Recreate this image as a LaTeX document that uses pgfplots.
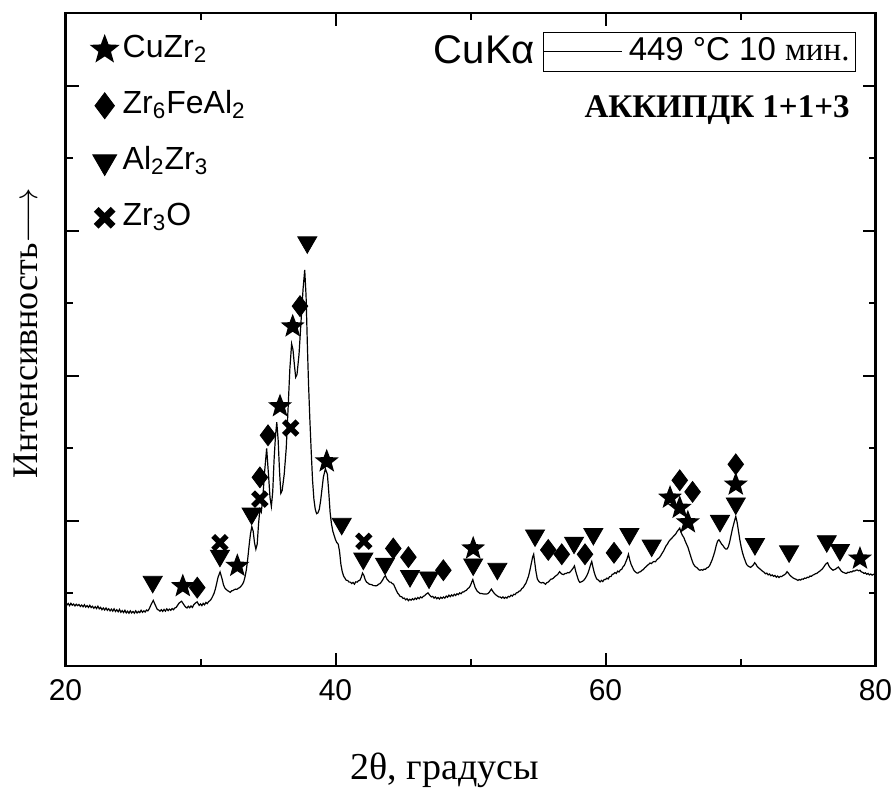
\documentclass[border=0pt]{standalone}
\usepackage{fontspec}
\setmainfont{Liberation Serif}
\newfontfamily\arial{Liberation Sans}
\usepackage{pgfplots}
\pgfplotsset{compat=1.18}

\pgfdeclareplotmark{fstar}{%
  \pgfpathmoveto{\pgfpointpolar{90}{\pgfplotmarksize}}%
  \pgfpathlineto{\pgfpointpolar{126}{0.42\pgfplotmarksize}}%
  \pgfpathlineto{\pgfpointpolar{162}{\pgfplotmarksize}}%
  \pgfpathlineto{\pgfpointpolar{198}{0.42\pgfplotmarksize}}%
  \pgfpathlineto{\pgfpointpolar{234}{\pgfplotmarksize}}%
  \pgfpathlineto{\pgfpointpolar{270}{0.42\pgfplotmarksize}}%
  \pgfpathlineto{\pgfpointpolar{306}{\pgfplotmarksize}}%
  \pgfpathlineto{\pgfpointpolar{342}{0.42\pgfplotmarksize}}%
  \pgfpathlineto{\pgfpointpolar{18}{\pgfplotmarksize}}%
  \pgfpathlineto{\pgfpointpolar{54}{0.42\pgfplotmarksize}}%
  \pgfpathclose
  \pgfusepathqfill
}
\pgfdeclareplotmark{bx}{%
  \pgfpathmoveto{\pgfpoint{0.509\pgfplotmarksize}{0.905\pgfplotmarksize}}%
  \pgfpathlineto{\pgfpoint{0.905\pgfplotmarksize}{0.509\pgfplotmarksize}}%
  \pgfpathlineto{\pgfpoint{0.396\pgfplotmarksize}{0pt}}%
  \pgfpathlineto{\pgfpoint{0.905\pgfplotmarksize}{-0.509\pgfplotmarksize}}%
  \pgfpathlineto{\pgfpoint{0.509\pgfplotmarksize}{-0.905\pgfplotmarksize}}%
  \pgfpathlineto{\pgfpoint{0pt}{-0.396\pgfplotmarksize}}%
  \pgfpathlineto{\pgfpoint{-0.509\pgfplotmarksize}{-0.905\pgfplotmarksize}}%
  \pgfpathlineto{\pgfpoint{-0.905\pgfplotmarksize}{-0.509\pgfplotmarksize}}%
  \pgfpathlineto{\pgfpoint{-0.396\pgfplotmarksize}{0pt}}%
  \pgfpathlineto{\pgfpoint{-0.905\pgfplotmarksize}{0.509\pgfplotmarksize}}%
  \pgfpathlineto{\pgfpoint{-0.509\pgfplotmarksize}{0.905\pgfplotmarksize}}%
  \pgfpathlineto{\pgfpoint{0pt}{0.396\pgfplotmarksize}}%
  \pgfpathclose
  \pgfusepathqfill
}

\pgfplotstableread{
x y
20.0 0.430
20.1 0.420
20.2 0.431
20.3 0.416
20.4 0.432
20.5 0.419
20.6 0.427
20.7 0.414
20.8 0.426
20.9 0.416
21.0 0.424
21.1 0.410
21.2 0.420
21.3 0.408
21.4 0.422
21.5 0.406
21.6 0.416
21.7 0.404
21.8 0.418
21.9 0.403
22.0 0.412
22.1 0.398
22.2 0.409
22.3 0.396
22.4 0.412
22.5 0.394
22.6 0.404
22.7 0.388
22.8 0.400
22.9 0.386
23.0 0.400
23.1 0.384
23.2 0.394
23.3 0.380
23.4 0.392
23.5 0.378
23.6 0.394
23.7 0.376
23.8 0.388
23.9 0.374
24.0 0.390
24.1 0.370
24.2 0.382
24.3 0.368
24.4 0.384
24.5 0.366
24.6 0.378
24.7 0.364
24.8 0.380
24.9 0.366
25.0 0.376
25.1 0.364
25.2 0.380
25.3 0.366
25.4 0.376
25.5 0.368
25.6 0.384
25.7 0.370
25.8 0.380
25.9 0.372
26.0 0.386
26.1 0.380
26.2 0.394
26.35 0.425
26.5 0.452
26.65 0.420
26.8 0.390
26.9 0.386
27.0 0.378
27.1 0.388
27.2 0.376
27.3 0.390
27.4 0.378
27.5 0.394
27.6 0.382
27.7 0.392
27.8 0.384
27.9 0.396
28.0 0.388
28.1 0.400
28.2 0.404
28.3 0.418
28.4 0.432
28.5 0.440
28.6 0.446
28.7 0.432
28.8 0.418
28.9 0.406
29.0 0.400
29.1 0.412
29.2 0.402
29.3 0.414
29.4 0.404
29.5 0.422
29.6 0.432
29.75 0.442
29.9 0.418
30.0 0.428
30.1 0.416
30.2 0.432
30.3 0.422
30.4 0.438
30.5 0.430
30.6 0.444
30.7 0.450
30.8 0.462
30.9 0.480
31.0 0.500
31.1 0.530
31.2 0.570
31.3 0.612
31.45 0.648
31.6 0.600
31.7 0.560
31.8 0.538
31.9 0.528
32.0 0.520
32.1 0.514
32.2 0.508
32.3 0.518
32.4 0.520
32.5 0.526
32.6 0.530
32.7 0.528
32.8 0.536
32.9 0.540
33.0 0.550
33.1 0.562
33.2 0.580
33.3 0.615
33.4 0.665
33.5 0.740
33.6 0.830
33.7 0.910
33.8 0.960
33.9 0.930
34.0 0.850
34.1 0.805
34.2 0.840
34.3 0.980
34.4 1.080
34.5 1.060
34.6 1.140
34.75 1.340
34.9 1.500
35.05 1.300
35.15 1.160
35.25 1.100
35.35 1.200
35.45 1.420
35.55 1.580
35.65 1.680
35.75 1.560
35.85 1.350
35.95 1.190
36.05 1.210
36.2 1.320
36.35 1.500
36.5 1.800
36.62 2.050
36.75 2.220
36.85 2.180
36.95 2.080
37.05 1.990
37.15 2.010
37.3 2.150
37.45 2.380
37.6 2.600
37.72 2.730
37.82 2.550
37.92 2.200
38.0 1.950
38.1 1.700
38.2 1.480
38.3 1.280
38.4 1.150
38.5 1.080
38.6 1.050
38.7 1.055
38.8 1.080
38.9 1.140
39.0 1.220
39.1 1.300
39.25 1.360
39.4 1.320
39.5 1.200
39.6 1.060
39.7 0.980
39.8 0.930
39.9 0.900
40.0 0.870
40.1 0.850
40.2 0.840
40.3 0.790
40.4 0.700
40.5 0.650
40.6 0.620
40.7 0.605
40.8 0.590
40.9 0.590
41.0 0.578
41.1 0.578
41.2 0.568
41.3 0.576
41.4 0.564
41.5 0.580
41.6 0.578
41.7 0.588
41.8 0.590
41.9 0.610
42.0 0.640
42.1 0.625
42.2 0.595
42.3 0.578
42.4 0.572
42.5 0.564
42.6 0.562
42.7 0.560
42.8 0.554
42.9 0.554
43.0 0.552
43.1 0.556
43.2 0.564
43.3 0.568
43.4 0.580
43.5 0.594
43.6 0.612
43.7 0.622
43.8 0.600
43.9 0.590
44.0 0.578
44.1 0.578
44.2 0.568
44.3 0.564
44.4 0.543
44.5 0.522
44.6 0.503
44.7 0.492
44.8 0.478
44.9 0.478
45.0 0.466
45.1 0.468
45.2 0.456
45.3 0.464
45.4 0.450
45.5 0.460
45.6 0.454
45.7 0.464
45.8 0.456
45.9 0.468
46.0 0.460
46.1 0.472
46.2 0.464
46.3 0.476
46.4 0.470
46.5 0.480
46.6 0.484
46.7 0.494
46.85 0.504
47.0 0.486
47.1 0.476
47.2 0.480
47.3 0.468
47.4 0.476
47.5 0.464
47.6 0.472
47.7 0.462
47.8 0.474
47.9 0.466
48.0 0.476
48.1 0.468
48.2 0.482
48.3 0.474
48.4 0.488
48.5 0.478
48.6 0.490
48.7 0.482
48.8 0.494
48.9 0.486
49.0 0.498
49.1 0.492
49.2 0.504
49.3 0.498
49.4 0.510
49.5 0.510
49.6 0.518
49.7 0.522
49.8 0.534
49.9 0.540
50.0 0.556
50.1 0.580
50.17 0.595
50.25 0.570
50.35 0.540
50.5 0.515
50.6 0.508
50.7 0.500
50.8 0.500
50.9 0.498
51.0 0.496
51.1 0.496
51.2 0.496
51.3 0.500
51.4 0.510
51.55 0.530
51.65 0.515
51.75 0.502
51.85 0.492
52.0 0.482
52.1 0.476
52.2 0.476
52.3 0.468
52.4 0.476
52.5 0.466
52.6 0.474
52.7 0.468
52.8 0.480
52.9 0.476
53.0 0.488
53.1 0.482
53.2 0.494
53.3 0.492
53.4 0.504
53.5 0.506
53.6 0.516
53.7 0.518
53.8 0.534
53.9 0.540
54.0 0.556
54.1 0.570
54.2 0.594
54.3 0.620
54.4 0.660
54.5 0.705
54.6 0.750
54.68 0.770
54.75 0.720
54.85 0.650
54.95 0.600
55.05 0.585
55.15 0.576
55.25 0.572
55.35 0.576
55.45 0.572
55.55 0.563
55.65 0.574
55.75 0.578
55.85 0.588
55.95 0.598
56.05 0.600
56.15 0.606
56.3 0.620
56.45 0.630
56.6 0.650
56.75 0.634
56.9 0.630
57.0 0.638
57.1 0.638
57.2 0.644
57.3 0.642
57.4 0.650
57.5 0.662
57.6 0.674
57.7 0.690
57.8 0.650
57.9 0.620
58.0 0.590
58.1 0.576
58.2 0.580
58.3 0.584
58.4 0.592
58.5 0.604
58.6 0.620
58.7 0.640
58.8 0.668
58.9 0.700
58.98 0.720
59.05 0.690
59.15 0.650
59.25 0.620
59.35 0.600
59.5 0.590
59.6 0.580
59.7 0.590
59.8 0.582
59.9 0.596
60.0 0.596
60.1 0.606
60.2 0.600
60.3 0.616
60.4 0.616
60.5 0.632
60.6 0.634
60.7 0.644
60.8 0.638
60.9 0.654
61.0 0.648
61.1 0.662
61.2 0.666
61.3 0.684
61.4 0.694
61.5 0.716
61.6 0.740
61.7 0.770
61.8 0.730
61.9 0.700
62.0 0.680
62.1 0.660
62.2 0.650
62.3 0.642
62.4 0.640
62.5 0.648
62.6 0.650
62.7 0.660
62.8 0.664
62.9 0.676
63.0 0.684
63.1 0.694
63.2 0.700
63.3 0.710
63.4 0.706
63.5 0.716
63.6 0.720
63.7 0.718
63.8 0.732
63.9 0.740
64.0 0.748
64.1 0.762
64.2 0.778
64.3 0.792
64.4 0.812
64.5 0.830
64.6 0.842
64.7 0.860
64.8 0.870
64.9 0.880
65.0 0.890
65.1 0.900
65.2 0.910
65.3 0.926
65.4 0.938
65.5 0.950
65.6 0.920
65.7 0.900
65.8 0.886
65.9 0.862
66.0 0.840
66.1 0.820
66.2 0.790
66.3 0.760
66.4 0.730
66.5 0.705
66.6 0.690
66.7 0.682
66.8 0.676
66.9 0.664
67.0 0.660
67.1 0.664
67.2 0.660
67.3 0.668
67.4 0.666
67.5 0.676
67.6 0.680
67.7 0.690
67.8 0.710
67.9 0.732
68.0 0.760
68.1 0.790
68.2 0.830
68.3 0.860
68.4 0.870
68.5 0.856
68.6 0.840
68.7 0.830
68.8 0.816
68.9 0.806
69.0 0.806
69.1 0.822
69.2 0.856
69.3 0.900
69.4 0.944
69.5 0.980
69.6 1.015
69.65 1.030
69.75 0.990
69.85 0.930
69.95 0.870
70.05 0.820
70.15 0.780
70.25 0.750
70.35 0.724
70.45 0.700
70.55 0.690
70.65 0.684
70.75 0.680
70.85 0.688
70.95 0.696
71.05 0.712
71.15 0.700
71.25 0.684
71.35 0.676
71.45 0.668
71.55 0.660
71.65 0.652
71.75 0.646
71.85 0.636
71.95 0.640
72.05 0.628
72.15 0.634
72.25 0.622
72.35 0.628
72.45 0.618
72.55 0.624
72.65 0.612
72.75 0.620
72.85 0.610
72.95 0.618
73.05 0.616
73.15 0.624
73.25 0.628
73.35 0.636
73.45 0.650
73.55 0.640
73.65 0.626
73.75 0.618
73.85 0.610
73.95 0.604
74.05 0.600
74.15 0.596
74.25 0.590
74.35 0.596
74.45 0.592
74.55 0.600
74.65 0.598
74.75 0.606
74.85 0.604
74.95 0.612
75.05 0.610
75.15 0.620
75.25 0.618
75.35 0.626
75.45 0.630
75.55 0.636
75.65 0.638
75.75 0.646
75.85 0.652
75.95 0.660
76.05 0.668
76.15 0.680
76.25 0.694
76.35 0.706
76.45 0.712
76.55 0.690
76.65 0.676
76.75 0.668
76.85 0.660
76.95 0.664
77.05 0.668
77.15 0.676
77.25 0.682
77.35 0.670
77.45 0.656
77.55 0.648
77.65 0.644
77.75 0.640
77.85 0.638
77.95 0.646
78.05 0.644
78.15 0.650
78.25 0.648
78.35 0.656
78.45 0.654
78.55 0.660
78.65 0.662
78.75 0.656
78.85 0.660
78.95 0.648
79.05 0.646
79.15 0.638
79.25 0.642
79.35 0.632
79.45 0.638
79.55 0.628
79.65 0.634
79.75 0.626
79.85 0.632
80.0 0.628
}\xrd

\begin{document}
\begin{tikzpicture}
\useasboundingbox (0,0) rectangle (446pt,397pt);
\begin{axis}[
  at={(32.75pt,64pt)}, anchor=south west,
  scale only axis, width=405pt, height=326.5pt,
  xmin=20, xmax=80, ymin=0, ymax=4.5,
  xtick={20,40,60,80}, minor x tick num=1,
  ytick={0,1,2,3,4}, minor y tick num=1, yticklabels={},
  tick align=inside,
  major tick length=6.5pt, minor tick length=3.5pt,
  every tick/.style={black, line width=1pt},
  axis line style={line width=1.1pt},
  /pgf/number format/assume math mode=true,
  xticklabel style={font=\arial\fontsize{15}{17}\selectfont, yshift=-3pt},
  xlabel={2θ, градусы},
  ylabel={Интенсивность$\longrightarrow$},
  every axis x label/.style={at={(axis description cs:0.4685,-0.159)}, anchor=center, font=\fontsize{19}{22}\selectfont},
  every axis y label/.style={at={(axis description cs:-0.0494,0.51)}, rotate=90, anchor=center, font=\fontsize{18}{21}\selectfont},
  legend cell align=left,
  legend image code/.code={\path[draw=none,fill=none] (-6pt,-4pt) rectangle (6pt,4pt); \draw[#1, every mark/.append style={scale=1.25}] plot coordinates {(0pt,0pt)};},
  legend style={draw=none, fill=none, at={(axis description cs:0.022,0.978)}, anchor=north west,
    font=\arial\fontsize{16}{19}\selectfont, row sep=10pt,
    nodes={inner sep=1.5pt, text height=11.5pt, text depth=3.5pt}},
]
\addplot[black, line width=0.6pt, forget plot] table[x=x, y=y] {\xrd};

\addplot[only marks, mark=fstar, mark size=6.3pt, black] coordinates {
(28.69,0.55) (32.73,0.69) (35.89,1.79) (36.83,2.34) (39.35,1.41) (50.2,0.81)
(64.78,1.16) (65.5,1.09) (66.1,0.99) (69.65,1.25) (78.85,0.74)};
\addlegendentry{CuZr\textsubscript{2}}

\addplot[only marks, mark=diamond*, mark size=5.2pt, black] coordinates {
(29.76,0.54) (34.4,1.30) (35.0,1.59) (37.37,2.48) (44.28,0.81) (45.4,0.75)
(47.99,0.66) (55.76,0.80) (56.76,0.77) (58.48,0.77) (60.63,0.78) (65.5,1.28)
(66.45,1.20) (69.65,1.39)};
\addlegendentry{Zr\textsubscript{6}FeAl\textsubscript{2}}

\addplot[only marks, mark=triangle*, mark size=5.5pt, mark options={rotate=180}, black] coordinates {
(26.46,0.58) (31.44,0.76) (33.79,1.05) (37.91,2.92) (40.46,0.98) (42.06,0.74)
(43.67,0.705) (45.52,0.62) (46.93,0.61) (50.2,0.70) (51.99,0.67) (54.78,0.90)
(57.67,0.85) (59.1,0.91) (61.77,0.91) (63.42,0.83) (68.48,1.00) (69.65,1.12)
(71.07,0.84) (73.6,0.79) (76.39,0.86) (77.37,0.80)};
\addlegendentry{Al\textsubscript{2}Zr\textsubscript{3}}

\addplot[only marks, mark=bx, mark size=4.8pt, black] coordinates {
(31.44,0.85) (34.4,1.15) (36.68,1.64) (42.1,0.86)};
\addlegendentry{Zr\textsubscript{3}O}

\node[anchor=east, inner sep=0pt, font=\arial\fontsize{20}{23}\selectfont] at (axis description cs:0.58,0.943) {CuKα};
\node[anchor=east, inner sep=0pt, font=\bfseries\fontsize{16.5}{19}\selectfont] at (axis description cs:0.9685,0.8515) {АККИПДК 1+1+3};
\end{axis}

\begin{axis}[
  at={(32.75pt,64pt)}, anchor=south west,
  scale only axis, width=405pt, height=326.5pt,
  xmin=20, xmax=80, ymin=0, ymax=4.5,
  hide axis,
  legend image code/.code={\draw[#1] (0pt,0pt) -- (39pt,0pt);},
  legend style={draw=black, line width=0.5pt, fill=white,
    at={(axis description cs:0.976,0.9714)}, anchor=north east,
    inner sep=0pt,
    font=\arial\fontsize{16.5}{19}\selectfont,
    nodes={inner xsep=3pt, inner ysep=2.5pt, text height=11.5pt, text depth=3pt}},
]
\addplot[draw=none, forget plot] coordinates {(20,0) (80,4.5)};
\addlegendimage{black, line width=0.5pt}
\addlegendentry{449 °C 10 {\rmfamily мин.}}
\end{axis}
\end{tikzpicture}
\end{document}
